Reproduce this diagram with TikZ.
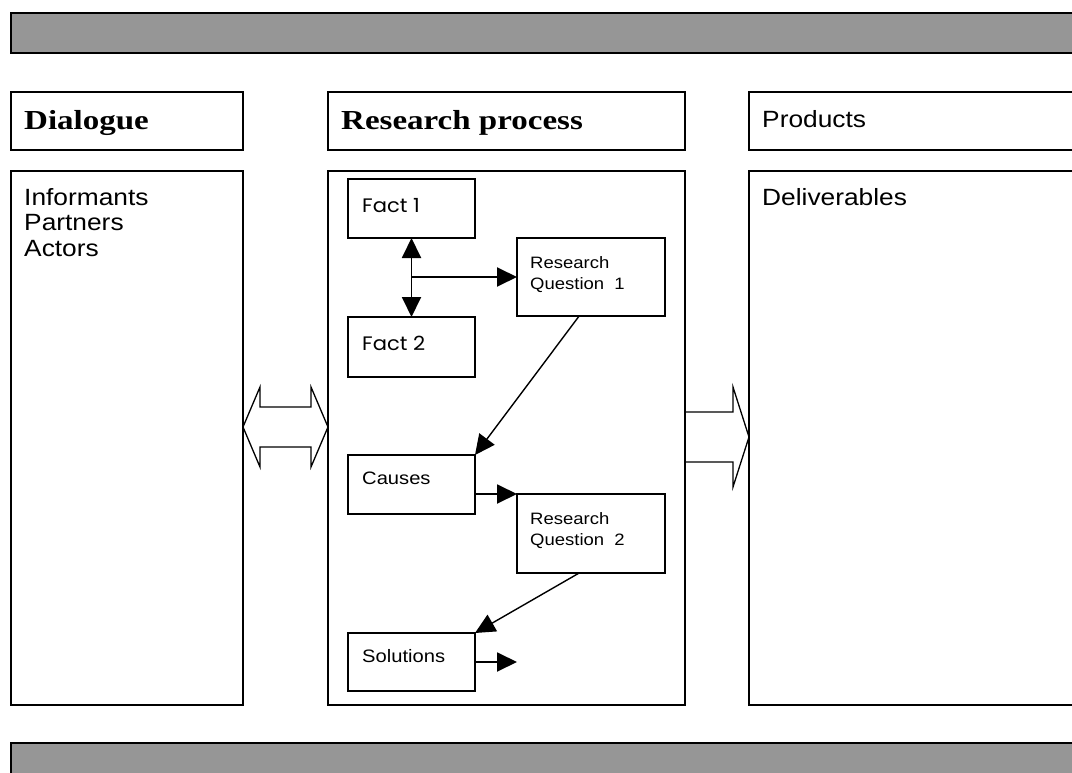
\documentclass[tikz,border=0pt]{standalone}
\usepackage{fontspec}
\setmainfont[FakeStretch=1.12]{Liberation Sans}
\newfontfamily\garfont[FakeStretch=1.2]{Liberation Serif}
\newfontfamily\gothfont[FakeStretch=1.08]{Poppins}
\usetikzlibrary{arrows.meta,calc}
\definecolor{bargray}{HTML}{969696}
\begin{document}
\begin{tikzpicture}[x=1pt,y=-1pt,
  box/.style={draw=black,line width=1.4pt,fill=white,anchor=north west,inner sep=0pt,outer sep=0pt},
  bar/.style={draw=black,line width=1.6pt,fill=bargray,anchor=north west,inner sep=0pt,outer sep=0pt},
  big/.style={anchor=base west,inner sep=0pt,font=\fontsize{23.5}{30}\selectfont},
  head/.style={anchor=base west,inner sep=0pt,font=\garfont\bfseries\fontsize{27.5}{30}\selectfont},
  mid/.style={anchor=base west,inner sep=0pt,font=\fontsize{18}{22}\selectfont},
  small/.style={anchor=base west,inner sep=0pt,font=\fontsize{16.5}{22}\selectfont},
  goth/.style={anchor=base west,inner sep=0pt,font=\gothfont\fontsize{19.5}{22}\selectfont},
  arr/.style={line width=1.4pt,-{Triangle[length=20pt,width=19pt]}},
  thickarr/.style={line width=1.9pt,-{Triangle[length=20pt,width=19pt]}},
  darr/.style={line width=1.9pt,{Triangle[length=20pt,width=19pt]}-{Triangle[length=20pt,width=19pt]}},
  fat/.style={line width=1.3pt,line join=miter}]
\useasboundingbox (0,0) rectangle (1072,773);
\clip (0,0) rectangle (1072,773);
% bars
\node[bar,minimum width=1080pt,minimum height=40pt] (topbar) at (11,13) {};
\node[bar,minimum width=1080pt,minimum height=50pt] (botbar) at (11,743) {};
% headers
\node[box,minimum width=232pt,minimum height=58pt] (hdia) at (11,92) {};
\node[box,minimum width=357pt,minimum height=58pt] (hres) at (328,92) {};
\node[box,minimum width=340pt,minimum height=58pt] (hpro) at (749,92) {};
\node[head] (tdia) at (24,130) {Dialogue};
\node[head] (tres) at (341,130) {Research process};
\node[big] (tpro) at (762,128) {Products};
% bodies
\node[box,minimum width=232pt,minimum height=534pt] (bdia) at (11,171) {};
\node[box,minimum width=357pt,minimum height=534pt] (bres) at (328,171) {};
\node[box,minimum width=340pt,minimum height=534pt] (bpro) at (749,171) {};
\node[big] (tinf) at (24,206) {Informants};
\node[big] (tpar) at (24,231) {Partners};
\node[big] (tact) at (24,256) {Actors};
\node[big] (tdel) at (762,206) {Deliverables};
% inner boxes
\node[box,minimum width=127pt,minimum height=59pt] (fact1) at (348,179) {};
\node[goth] (tf1) at (362,212) {Fact 1};
\node[box,minimum width=127pt,minimum height=60pt] (fact2) at (348,317) {};
\node[goth] (tf2) at (362,350) {Fact 2};
\node[box,minimum width=148pt,minimum height=78pt] (rq1) at (517,238) {};
\node[small] (tq1a) at (530,268) {Research};
\node[small] (tq1b) at (530,289) {Question~~1};
\node[box,minimum width=127pt,minimum height=59pt] (causes) at (348,455) {};
\node[mid] (tcau) at (362,484) {Causes};
\node[box,minimum width=148pt,minimum height=79pt] (rq2) at (517,494) {};
\node[small] (tq2a) at (530,524) {Research};
\node[small] (tq2b) at (530,545) {Question~~2};
\node[box,minimum width=127pt,minimum height=58pt] (sol) at (348,633) {};
\node[mid] (tsol) at (362,662) {Solutions};
% connectors
\draw[darr] (fact1) -- (fact2);
\draw[thickarr] (fact1.south |- rq1.west) -- (rq1.west);
\draw[arr] ($(rq1.south west)!0.42!(rq1.south east)$) -- (causes.north east);
\draw[thickarr] (causes.east |- rq2.north) -- (rq2.north west);
\draw[arr] ($(rq2.south west)!0.42!(rq2.south east)$) -- (sol.north east);
\coordinate (solend) at (517,662);
\draw[thickarr] (sol.east) -- (solend);
% block arrows
\draw[fat,fill=white] (bdia.east |- 0,427) -- (260,387) -- (260,407) -- (311,407) -- (311,387) -- (bres.west |- 0,427) -- (311,467) -- (311,447) -- (260,447) -- (260,467) -- cycle;
\draw[fat] (bres.east |- 0,412) -- (733,412) -- (733,387) -- (bpro.west |- 0,437) -- (733,487) -- (733,462) -- (bres.east |- 0,462);
\end{tikzpicture}
\end{document}
